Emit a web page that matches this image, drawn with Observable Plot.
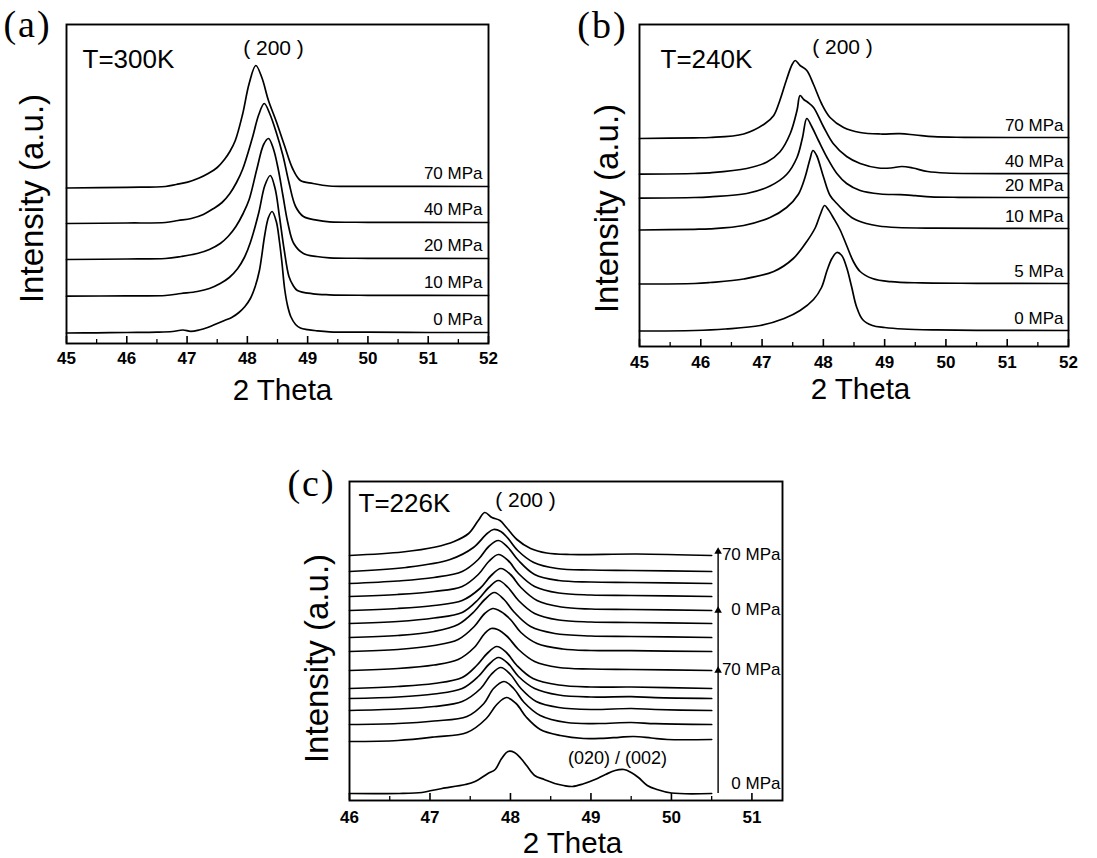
<!DOCTYPE html>
<html><head><meta charset="utf-8">
<script src="https://cdn.jsdelivr.net/npm/d3@7"></script>
<script src="https://cdn.jsdelivr.net/npm/@observablehq/plot@0.6"></script>
<style>
body{margin:0;background:#fff;}
#fig{position:relative;width:1097px;height:858px;overflow:hidden;background:#fff;}
.panel{position:absolute;}
</style></head>
<body><div id="fig"></div>
<script>
// ---------- tick values ----------
const thetaMajorAB = [45, 46, 47, 48, 49, 50, 51, 52];
const thetaMinorAB = [45.5, 46.5, 47.5, 48.5, 49.5, 50.5, 51.5];
const thetaMajorC = [46, 47, 48, 49, 50, 51];
const thetaMinorC = [46.5, 47.5, 48.5, 49.5, 50.5];

// ---------- panel (a) T=300K : [2theta, intensity above baseline] ----------
const aLabels = ["0 MPa", "10 MPa", "20 MPa", "40 MPa", "70 MPa"];
const aOffsets = [11, 48, 85, 121, 157];
const a0 = [[45.0,-0.5],[45.5,-0.3],[46.0,0],[46.5,0.3],[46.76,1],[46.93,2.5],[47.06,1.2],[47.2,2.5],[47.34,5],[47.5,9],[47.62,12],[47.74,15],[47.86,20],[47.96,26],[48.05,34],[48.13,46],[48.2,62],[48.29,98],[48.35,115],[48.41,121],[48.48,111],[48.53,92],[48.57,72],[48.62,43],[48.67,26],[48.72,16],[48.8,8],[48.88,4.4],[49.0,2.8],[49.15,1.7],[49.36,0.7],[50.0,0.3],[51.0,0],[52.0,0]];
const a10 = [[45.0,-0.7],[46.0,-0.3],[46.64,0],[46.9,2],[47.17,4],[47.37,7],[47.55,12],[47.7,18],[47.84,27],[47.95,38],[48.05,53],[48.19,83],[48.29,110],[48.38,120],[48.46,107],[48.53,80],[48.61,46],[48.69,19],[48.76,10],[48.83,5],[49.09,1.7],[49.36,0.7],[50.0,0.2],[52.0,0]];
const a20 = [[45.0,-1],[46.0,-0.5],[46.64,0],[46.9,2],[47.17,5],[47.37,9],[47.55,15],[47.68,22],[47.81,32],[47.93,45],[48.03,59],[48.16,90],[48.27,114],[48.35,120],[48.43,110],[48.51,90],[48.59,63],[48.67,36],[48.77,15],[48.93,5],[49.15,2],[49.36,0.7],[50.0,0.2],[52.0,0]];
const a40 = [[45.0,-1],[46.0,-0.5],[46.64,0],[46.85,2],[47.07,4],[47.27,8],[47.44,14],[47.58,20],[47.71,29],[47.82,40],[47.92,53],[48.08,84],[48.19,108],[48.28,119],[48.37,109],[48.48,90],[48.59,67],[48.69,40],[48.8,16],[48.93,6],[49.15,2.4],[49.36,0.7],[50.0,0.2],[52.0,0]];
const a70 = [[45.0,-1.5],[46.0,-0.8],[46.64,0],[46.82,2],[47.01,4.4],[47.2,8.5],[47.35,13],[47.5,19],[47.62,27],[47.71,35],[47.8,46],[47.92,72],[48.03,103],[48.14,121],[48.24,109],[48.35,86],[48.48,65],[48.61,42],[48.75,18],[48.88,6],[49.09,3],[49.36,0.5],[50.0,0.2],[52.0,0]];

// ---------- panel (b) T=240K ----------
const bLabels = ["0 MPa", "5 MPa", "10 MPa", "20 MPa", "40 MPa", "70 MPa"];
const bOffsets = [16, 63, 118, 149, 173, 209];
const b0 = [[45,-0.5],[45.9,0],[46.4,1.5],[46.97,5],[47.36,12],[47.62,20],[47.84,31],[47.97,43],[48.06,60],[48.14,72],[48.22,78],[48.3,75],[48.38,63],[48.46,44],[48.54,24],[48.64,11],[48.8,5],[49.0,3],[49.3,1.5],[49.8,0.6],[50.5,0.2],[52,0]];
const b5 = [[45,-0.5],[45.9,0],[46.15,1],[46.7,4.5],[47.19,12],[47.51,25],[47.73,42],[47.87,56],[47.95,69],[48.02,78],[48.08,74],[48.17,65],[48.27,54],[48.38,38],[48.49,22],[48.6,12],[48.8,5],[49.1,1.8],[49.6,0.6],[50.5,0.2],[52,0]];
const b10 = [[45,-1.5],[45.9,-0.8],[46.15,-0.3],[46.7,3],[47.13,11],[47.4,21],[47.59,34],[47.7,51],[47.78,69],[47.83,78],[47.89,73],[48.0,52],[48.11,33],[48.22,25],[48.33,18],[48.49,10],[48.7,5],[48.9,2.5],[49.2,1],[49.8,0.3],[52,0]];
const b20 = [[45,-0.7],[45.9,0],[46.15,0.7],[46.75,4],[47.13,11.5],[47.4,23],[47.57,40],[47.66,60],[47.73,79],[47.81,71],[47.92,57],[48.06,40],[48.22,24],[48.38,14],[48.6,7],[48.93,3.5],[49.25,2.8],[49.5,1.8],[49.75,0.7],[50.2,0.2],[52,0]];
const b40 = [[45,-0.7],[45.9,0],[46.15,0.7],[46.75,5],[47.08,11.5],[47.29,21.5],[47.46,40],[47.57,63],[47.62,78],[47.68,74],[47.75,71],[47.84,66],[48.0,47],[48.16,30],[48.38,17],[48.6,10],[48.9,5.5],[49.1,5.5],[49.28,7],[49.46,5.5],[49.7,2],[50.0,0.5],[52,0]];
const b70 = [[45,-1],[45.9,-0.3],[46.15,0],[46.7,3.5],[47.05,14],[47.19,22],[47.29,37],[47.4,58],[47.49,73],[47.54,77],[47.62,72],[47.73,67],[47.84,53],[47.97,34],[48.11,20],[48.33,10],[48.6,5],[48.93,3.5],[49.25,3.8],[49.5,2.5],[49.8,0.8],[50.3,0.2],[52,0]];

// ---------- panel (c) T=226K ----------
const cOffsets = [7, 61, 76, 90, 102, 112, 130, 149, 163, 177, 190, 204, 217, 229, 245];
const c0 = [[46.0,0],[46.62,0],[46.9,1],[47.02,3],[47.15,5],[47.44,9],[47.56,12],[47.72,20],[47.81,24],[47.89,35],[47.97,42],[48.05,41],[48.13,35],[48.2,28],[48.3,18],[48.42,14],[48.55,10],[48.66,8],[48.77,7],[48.9,9.5],[49.05,14],[49.18,19],[49.3,23],[49.41,24],[49.5,21],[49.59,16],[49.7,8],[49.82,4],[50.0,0.5],[50.5,0]];
const c1 = [[46.0,-2],[46.6,-1],[47.05,2.5],[47.46,7],[47.7,21],[47.83,35],[47.95,42],[48.07,36],[48.2,22],[48.37,10],[48.62,4],[48.91,1],[49.15,1.2],[49.35,2.2],[49.53,3],[49.75,1.5],[49.95,0],[50.5,0]];
const c2 = [[46.0,0],[46.6,1],[47.05,3.5],[47.46,8],[47.67,21],[47.79,36],[47.92,43],[48.04,36],[48.17,22],[48.37,9],[48.7,2],[49.1,1],[49.5,2],[49.8,0.8],[50.5,0]];
const c3 = [[46.0,0],[46.6,1.5],[47.05,4],[47.4,9],[47.63,22],[47.76,36],[47.88,43],[48.0,36],[48.13,22],[48.32,9],[48.6,3],[49.0,1],[49.5,2],[49.8,1],[50.5,0]];
const c4 = [[46.0,0],[46.6,1.5],[47.05,4.5],[47.4,10],[47.6,22],[47.73,34],[47.85,41],[47.97,35],[48.1,22],[48.3,10],[48.6,3.5],[49.0,1.5],[49.5,1.8],[49.8,0.8],[50.5,0]];
const c5 = [[46.0,0],[46.6,2],[47.05,5],[47.4,11],[47.58,23],[47.71,35],[47.83,42],[47.95,36],[48.08,23],[48.28,10],[48.6,3.5],[49.0,1.5],[49.5,1.5],[50.5,0]];
const c6 = [[46.0,0],[46.6,2],[47.05,5.5],[47.35,11],[47.55,23],[47.68,37],[47.76,42],[47.84,41],[47.96,34],[48.1,21],[48.3,9],[48.6,3],[49.0,1.5],[49.5,1],[50.5,0]];
const c7 = [[46.0,0],[46.6,2],[47.05,6],[47.35,12],[47.55,25],[47.68,38],[47.78,43],[47.88,40],[48.0,32],[48.13,19],[48.33,8],[48.65,2.5],[49.0,1],[49.5,0.8],[50.5,0]];
const c8 = [[46.0,0],[46.6,2],[47.05,6],[47.35,13],[47.55,26],[47.68,38],[47.8,45],[47.92,38],[48.05,25],[48.25,11],[48.55,4],[49.0,1.5],[49.5,1],[50.5,0]];
const c9 = [[46.0,0],[46.6,2],[47.05,5.5],[47.4,11],[47.6,24],[47.73,36],[47.85,43],[47.97,36],[48.1,23],[48.3,10],[48.6,3.5],[49.0,1.5],[49.5,1],[50.5,0]];
const c10 = [[46.0,0],[46.6,2],[47.05,5],[47.4,10],[47.62,22],[47.76,35],[47.88,42],[48.0,36],[48.13,23],[48.33,10],[48.63,3.5],[49.0,1.5],[49.5,1],[50.5,0]];
const c11 = [[46.0,0],[46.6,2],[47.05,5],[47.4,10],[47.6,22],[47.73,35],[47.85,42],[47.97,36],[48.1,23],[48.3,10],[48.6,3.5],[49.0,1.5],[49.5,1],[50.5,0]];
const c12 = [[46.0,0],[46.6,2.5],[47.05,6],[47.4,12],[47.6,24],[47.73,37],[47.85,43],[47.97,36],[48.1,23],[48.3,9],[48.6,3],[49.0,1.5],[49.5,1],[50.5,0]];
const c13 = [[46.0,0],[46.7,4],[47.25,12],[47.54,24],[47.71,38],[47.79,42],[47.88,40],[47.96,34],[48.09,21],[48.29,9],[48.58,3],[49.0,1.5],[49.5,1],[50.5,0]];
const c14 = [[46.0,0],[46.66,3.5],[47.07,8.5],[47.3,14],[47.48,22],[47.6,35],[47.68,43],[47.77,38],[47.87,35],[47.95,28],[48.08,16],[48.25,7],[48.45,2.5],[48.74,1],[49.57,1.5],[50.5,0]];
const cLabels = [{text: "0 MPa", trace: 0}, {text: "70 MPa", trace: 6}, {text: "0 MPa", trace: 10}, {text: "70 MPa", trace: 14}];
const cArrowStops = [0, 6, 10, 14];
const cArrowTheta = 50.58;
const cAnnotation = [{text: "(020) / (002)", theta: 49.33, level: 42}];

// ---------- helpers ----------
const SANS = "'Liberation Sans', Arial, Helvetica, sans-serif";
const SERIF = "'Liberation Serif', 'Times New Roman', serif";

function stack(traces, offsets) {
  return traces.flatMap((tr, i) => tr.map(([theta, v]) => ({series: i, theta, intensity: offsets[i] + v})));
}

function makePanel(o) {
  const innerH = o.height - o.mt - o.mb;
  const mid = {textAnchor: "middle", lineAnchor: "middle"};
  const marks = [
    Plot.frame({stroke: "#000", strokeWidth: 1.9}),
    Plot.tickX(o.major, {x: d => d, insetTop: innerH - 7, stroke: "#000", strokeWidth: 1.6}),
    Plot.tickX(o.minor, {x: d => d, insetTop: innerH - 4, stroke: "#000", strokeWidth: 1.3}),
    Plot.text(o.major, {x: d => d, text: d => String(d), frameAnchor: "bottom", ...mid, dy: o.tickDy, fontSize: 17, fontWeight: "bold"}),
    Plot.line(o.rows, {x: "theta", y: "intensity", z: "series", curve: "catmull-rom", stroke: "#000", strokeWidth: 1.7}),
    Plot.text(o.labels, {y: "y", text: "text", frameAnchor: "right", textAnchor: "end", lineAnchor: "middle", dx: o.labelDx, dy: o.labelDy, fontSize: 17}),
    Plot.text([o.tag], {text: d => d, frameAnchor: "top-left", ...mid, dx: o.tagDx, dy: o.tagDy, fontSize: 38, fontFamily: SERIF}),
    Plot.text([o.temp], {text: d => d, frameAnchor: "top-left", textAnchor: "start", lineAnchor: "middle", dx: o.tempDx, dy: o.tempDy, fontSize: 26}),
    Plot.text([o.peak], {text: d => d, frameAnchor: "top-left", ...mid, dx: o.peakDx, dy: o.peakDy, fontSize: 21}),
    Plot.text(["2 Theta"], {text: d => d, frameAnchor: "bottom", ...mid, dx: o.xtDx, dy: o.xtDy, fontSize: 29.5}),
    Plot.text(["Intensity (a.u.)"], {text: d => d, frameAnchor: "left", ...mid, rotate: -90, dx: o.ytDx, dy: o.ytDy, fontSize: 33}),
    ...(o.extra || [])
  ];
  const svg = Plot.plot({
    width: o.width, height: o.height,
    marginLeft: o.ml, marginRight: o.mr, marginTop: o.mt, marginBottom: o.mb,
    x: {domain: o.xDomain, axis: null},
    y: {domain: o.yDomain, axis: null},
    style: {fontFamily: SANS, fontSize: "15px", color: "#000", background: "transparent", overflow: "visible"},
    marks
  });
  svg.querySelectorAll("text").forEach(t => {
    const s = t.textContent;
    if (/^\([abc]\)$/.test(s)) t.style.letterSpacing = "2px";
    if (/^\d+$/.test(s)) { t.style.fontSize = "17px"; t.style.fontWeight = "bold"; }
  });
  return svg;
}

function place(svg, left, top) {
  const d = document.createElement("div");
  d.className = "panel";
  d.style.left = left + "px";
  d.style.top = top + "px";
  d.appendChild(svg);
  document.getElementById("fig").appendChild(d);
}

// ---------- panel (a) ----------
place(makePanel({
  width: 545, height: 430, ml: 66, mr: 57, mt: 24, mb: 87,
  xDomain: [45, 52], yDomain: [0, 319],
  major: thetaMajorAB, minor: thetaMinorAB, tickDy: 15,
  rows: stack([a0, a10, a20, a40, a70], aOffsets),
  labels: aLabels.map((t, i) => ({text: t, y: aOffsets[i]})), labelDx: -6, labelDy: -13,
  tag: "(a)", tagDx: -39, tagDy: 0,
  temp: "T=300K", tempDx: 16, tempDy: 35,
  peak: "( 200 )", peakDx: 207, peakDy: 24,
  xtDx: 5, xtDy: 47, ytDx: -34, ytDy: 14.5
}), 0, 0);

// ---------- panel (b) ----------
place(makePanel({
  width: 537, height: 430, ml: 79, mr: 29, mt: 24, mb: 84,
  xDomain: [45, 52], yDomain: [0, 322],
  major: thetaMajorAB, minor: thetaMinorAB, tickDy: 16,
  rows: stack([b0, b5, b10, b20, b40, b70], bOffsets),
  labels: bLabels.map((t, i) => ({text: t, y: bOffsets[i]})), labelDx: -5, labelDy: -12,
  tag: "(b)", tagDx: -37, tagDy: 1,
  temp: "T=240K", tempDx: 21, tempDy: 35.5,
  peak: "( 200 )", peakDx: 203, peakDy: 23,
  xtDx: 6.5, xtDy: 43, ytDx: -32, ytDy: 23
}), 560, 0);

// ---------- panel (c) ----------
const cTraces = [c0, c1, c2, c3, c4, c5, c6, c7, c8, c9, c10, c11, c12, c13, c14];
const cSegs = cArrowStops.slice(1).map((s, i) => ({
  y1: cOffsets[cArrowStops[i]],
  y2: cOffsets[s] + (i === cArrowStops.length - 2 ? 6 : 2)
}));
place(makePanel({
  width: 530, height: 418, ml: 79, mr: 18, mt: 41, mb: 58,
  xDomain: [46, 51.38], yDomain: [0, 319],
  major: thetaMajorC, minor: thetaMinorC, tickDy: 17,
  rows: stack(cTraces, cOffsets),
  labels: cLabels.map(d => ({text: d.text, y: cOffsets[d.trace] + (d.trace === 0 ? 10 : 1)})), labelDx: -2, labelDy: 0,
  tag: "(c)", tagDx: -38, tagDy: 2,
  temp: "T=226K", tempDx: 9, tempDy: 22,
  peak: "( 200 )", peakDx: 176, peakDy: 19,
  xtDx: 6.5, xtDy: 43, ytDx: -32, ytDy: 17.5,
  extra: [
    Plot.ruleX(cSegs, {x: () => cArrowTheta, y1: "y1", y2: "y2", stroke: "#000", strokeWidth: 1.4}),
    Plot.dot(cSegs, {x: () => cArrowTheta, y: "y2", symbol: "triangle", r: 2.8, fill: "#000", stroke: "none", dy: 2}),
    Plot.text(cAnnotation, {x: "theta", y: "level", text: "text", fontSize: 18})
  ]
}), 270, 440);
</script>
</body></html>
